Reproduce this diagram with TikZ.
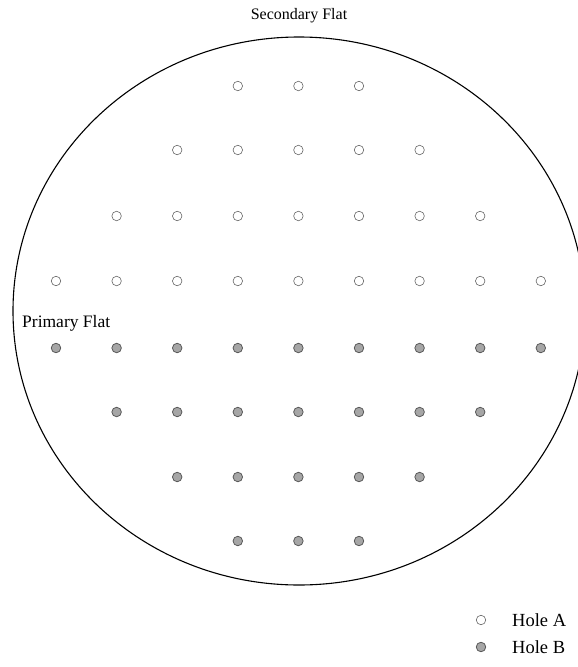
\documentclass[tikz,border=0pt]{standalone}
\usepackage{fontspec}
\setmainfont{Liberation Serif}
\begin{document}
\begin{tikzpicture}[x=1pt,y=-1pt,
  holea/.style={circle,draw=black!60,line width=0.6pt,inner sep=0pt,minimum size=9.5pt},
  holeb/.style={circle,draw=black!65,fill=black!35,line width=0.8pt,inner sep=0pt,minimum size=9.5pt},
  lbl/.style={font=\fontsize{16}{18}\selectfont,inner sep=0pt}]
\useasboundingbox (0,0) rectangle (578,667);
\begin{scope}
\clip (0,0) rectangle (578,667);
\draw[line width=1.1pt] (299,311) ellipse [x radius=286, y radius=274];
\end{scope}
\node[lbl] (sec) at (299,16) {Secondary Flat};
\node[lbl,anchor=west,font=\fontsize{17.5}{20}\selectfont] (pri) at (22,323) {Primary Flat};
% rows of hole A
\foreach \y/\a/\b in {86/3/5, 150/2/6, 216/1/7, 281/0/8}{
  \foreach \i in {\a,...,\b}{
    \node[holea] (a-\y-\i) at ({56+60.6*\i},\y) {};
  }
}
% rows of hole B
\foreach \y/\a/\b in {348/0/8, 412/1/7, 477/2/6, 541/3/5}{
  \foreach \i in {\a,...,\b}{
    \node[holeb] (b-\y-\i) at ({56+60.6*\i},\y) {};
  }
}
% legend
\node[holea] (la) at (481,620) {};
\node[lbl,anchor=west,font=\fontsize{18.5}{20}\selectfont] (lta) at (512,620) {Hole A};
\node[holeb] (lb) at (481,647) {};
\node[lbl,anchor=west,font=\fontsize{18.5}{20}\selectfont] (ltb) at (512,647) {Hole B};
\end{tikzpicture}
\end{document}
